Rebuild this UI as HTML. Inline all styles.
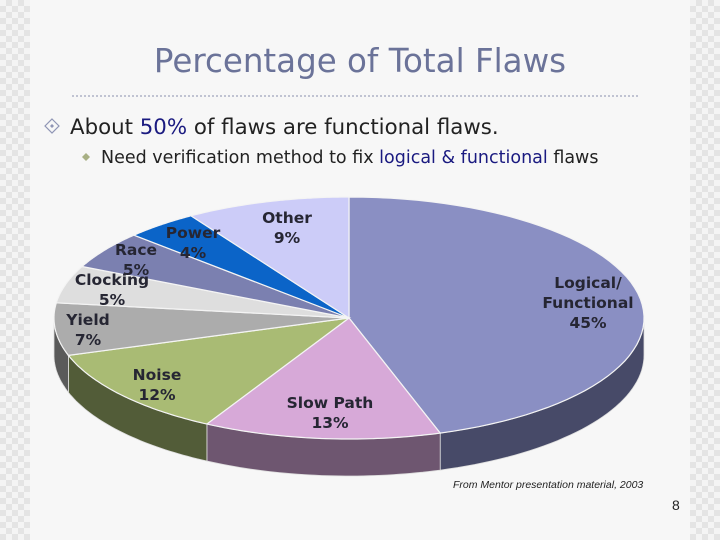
<!DOCTYPE html>
<html><head><meta charset="utf-8"><style>
body{margin:0;width:720px;height:540px;overflow:hidden;background:#f7f7f7;font-family:"DejaVu Sans","Liberation Sans",sans-serif;}
.strip{position:absolute;top:0;width:30px;height:540px;background-color:#f4f4f4;
background-image:linear-gradient(45deg,#e4e4e4 25%,transparent 25%,transparent 75%,#e4e4e4 75%),linear-gradient(45deg,#e4e4e4 25%,transparent 25%,transparent 75%,#e4e4e4 75%);
background-size:12px 12px;background-position:0 0,6px 6px;}
</style></head><body>
<div class="strip" style="left:0"></div>
<div class="strip" style="left:690px"></div>
<svg width="720" height="540" style="position:absolute;left:0;top:0">
<text x="360" y="72" text-anchor="middle" font-size="32.5" fill="#6b7399">Percentage of Total Flaws</text>
<line x1="72" y1="96" x2="640" y2="96" stroke="#a0a4bc" stroke-width="1.2" stroke-dasharray="2,2"/>
<g><path d="M52,119 L59,126 L52,133 L45,126Z" fill="none" stroke="#8f95b5" stroke-width="1.2"/><path d="M52,124 L54,126 L52,128 L50,126Z" fill="#8f95b5"/></g>
<text x="70" y="134" font-size="21.3" fill="#222">About <tspan fill="#1a1a80">50%</tspan> of flaws are functional flaws.</text>
<path d="M86,153 L90,157 L86,161 L82,157Z" fill="#a8b084"/>
<text x="101" y="163" font-size="17.5" fill="#222">Need verification method to fix <tspan fill="#1a1a80">logical &amp; functional</tspan> flaws</text>
<g id="pie"></g>
<text x="453" y="488" font-size="10.5" font-style="italic" fill="#222" font-family="Liberation Sans, sans-serif">From Mentor presentation material, 2003</text>
<text x="672" y="510" font-size="14" fill="#222" font-family="Liberation Sans, sans-serif">8</text>
</svg>
<script>
const categories=["Logical/Functional","Slow Path","Noise","Yield","Clocking","Race","Power","Other"];
const values=[45,13,12,7,5,5,4,9];
const topColors=["#8a8fc3","#d7a9d8","#a9bb74","#acacac","#dedede","#7b80b0","#0b64c8","#ccccf8"];
const sideColors=["#474a68","#6e5670","#525c38","#5a5a5a","#7a7a7a","#44476a","#063a78","#707090"];
const labelLines=[["Logical/","Functional","45%"],["Slow Path","13%"],["Noise","12%"],["Yield","7%"],["Clocking","5%"],["Race","5%"],["Power","4%"],["Other","9%"]];
const labelPos=[[588,303],[330,413],[157,385],[88,330],[112,290],[136,260],[193,243],[287,228]];
const cx=349,cy=318,rx=295,ry=121,depth=37;
const g=document.getElementById('pie');const NS="http://www.w3.org/2000/svg";
const total=values.reduce((a,b)=>a+b,0);
function pt(t,dy){return [cx+rx*Math.sin(t),cy-ry*Math.cos(t)+(dy||0)];}
let acc=0;const ang=[];
values.forEach(v=>{const a0=acc/total*2*Math.PI;acc+=v;ang.push([a0,acc/total*2*Math.PI]);});
ang.forEach((a,i)=>{
  const s=Math.max(a[0],Math.PI/2),e=Math.min(a[1],3*Math.PI/2);
  if(e<=s)return;
  let d="";const N=40;
  for(let k=0;k<=N;k++){const p=pt(s+(e-s)*k/N);d+=(k?"L":"M")+p[0].toFixed(1)+","+p[1].toFixed(1);}
  for(let k=N;k>=0;k--){const p=pt(s+(e-s)*k/N,depth);d+="L"+p[0].toFixed(1)+","+p[1].toFixed(1);}
  const el=document.createElementNS(NS,'path');
  
  
  el.setAttribute('d',d+"Z");el.setAttribute('fill',sideColors[i]);el.setAttribute('stroke','#ddd');el.setAttribute('stroke-width','0.8');
  g.appendChild(el);
});
ang.forEach((a,i)=>{
  let d="M"+cx+","+cy;const N=60;
  for(let k=0;k<=N;k++){const p=pt(a[0]+(a[1]-a[0])*k/N);d+="L"+p[0].toFixed(1)+","+p[1].toFixed(1);}
  const el=document.createElementNS(NS,'path');
  
  
  el.setAttribute('d',d+"Z");el.setAttribute('fill',topColors[i]);el.setAttribute('stroke','#f4f4f4');el.setAttribute('stroke-width','1.2');
  g.appendChild(el);
});
labelLines.forEach((lines,i)=>{
  const t=document.createElementNS(NS,'text');
  
  
  t.setAttribute('text-anchor','middle');t.setAttribute('font-size','15.5');t.setAttribute('font-weight','bold');t.setAttribute('fill','#262633');
  const y0=labelPos[i][1]-(lines.length-1)*10+5;
  lines.forEach((l,j)=>{const s=document.createElementNS(NS,'tspan');s.setAttribute('x',labelPos[i][0]);s.setAttribute('y',y0+j*20);s.textContent=l;t.appendChild(s);});
  g.appendChild(t);
});
</script>
</body></html>
